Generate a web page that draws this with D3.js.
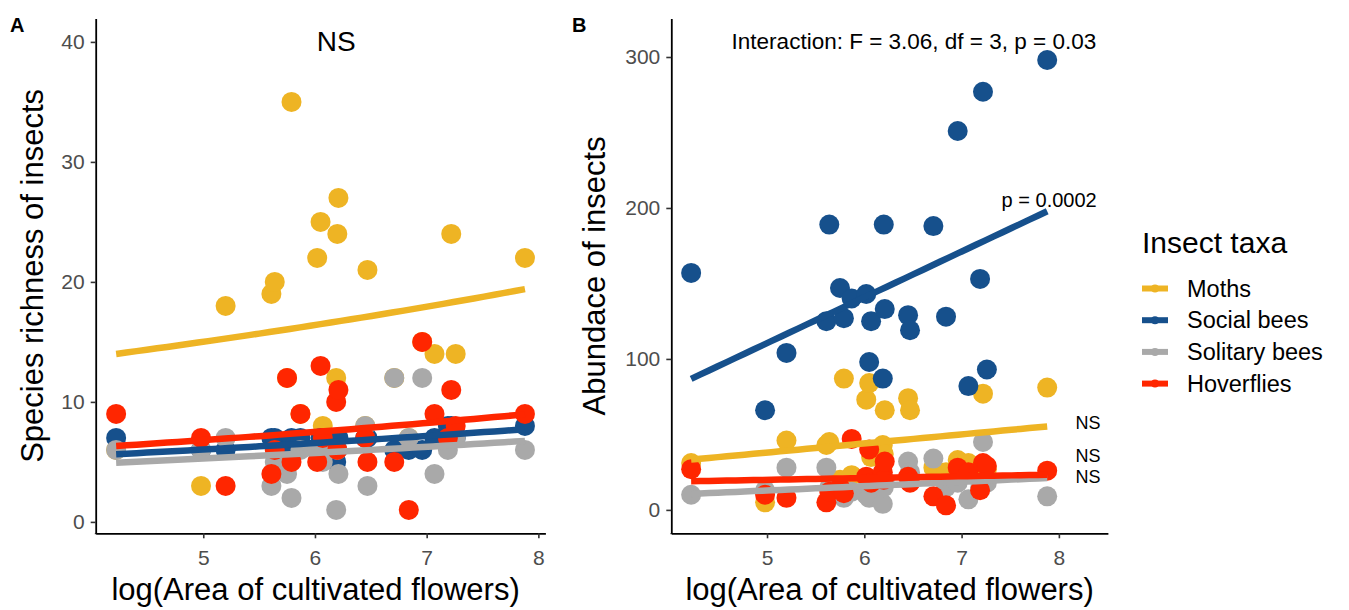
<!DOCTYPE html>
<html>
<head>
<meta charset="utf-8">
<script src="https://cdn.jsdelivr.net/npm/d3@7"></script>
<style>
  body { margin: 0; background: #fff; }
  svg { display: block; }
  text { font-family: "Liberation Sans", Arial, Helvetica, sans-serif; }
</style>
</head>
<body>
<svg id="chart" width="1349" height="610"></svg>
<script>
// ---- data -------------------------------------------------------------
const taxa = ["Moths", "Social bees", "Solitary bees", "Hoverflies"];
const taxaColours = ["#EEB424", "#16508C", "#A9A9A9", "#FF2600"];

// log(area of cultivated flowers) for each of the 24 sites
const logArea = [4.22, 4.98, 5.20, 5.61, 5.64, 5.75, 5.79, 5.87, 6.02, 6.05, 6.07, 6.19,
                 6.20, 6.21, 6.45, 6.47, 6.71, 6.84, 6.96, 7.07, 7.19, 7.22, 7.26, 7.88];

// species richness per site (panel A)
const richMoths      = [6, 3, 18, 19, 20, 12, 35, 9, 22, 25, 8, 12, 24, 27, 8, 21, 12, 7, 15, 14, 7, 24, 14, 22];
const richSocial     = [7, 6, 6, 7, 7, 6, 7, 7, 6, 7, 6, 5, 6, 7, 7, 7, 6, 6, 6, 7, 8, 8, 7, 8];
const richSolitary   = [6, 6, 7, 3, 5, 4, 2, 6, 6, 6, 5, 1, 6, 4, 8, 3, 12, 7, 12, 4, 6, 7, 7, 6];
const richHoverflies = [9, 7, 3, 4, 6, 12, 5, 9, 5, 13, 7, 10, 6, 11, 7, 5, 5, 1, 15, 9, 7, 11, 8, 9];

// abundance per site (panel B)
const abunMoths      = [31, 5, 46, 43, 45, 20, 87, 23, 73, 84, 35, 43, 37, 66, 74, 66, 28, 25, 33, 31, 26, 77, 27, 81];
const abunSocial     = [157, 66, 104, 125, 189, 147, 127, 140, 143, 98, 125, 87, 189, 133, 129, 119, 188, 128, 251, 82, 153, 277, 93, 298];
const abunSolitary   = [10, 13, 28, 28, 15, 15, 8, 12, 10, 8, 18, 4, 15, 20, 32, 25, 34, 15, 18, 7, 15, 45, 18, 9];
const abunHoverflies = [27, 10, 8, 5, 12, 15, 11, 47, 22, 40, 18, 25, 20, 32, 22, 18, 9, 3, 28, 25, 13, 31, 29, 26];

// fitted models: richness uses a log link, abundance is linear
const richIntercept = [2.263, 1.368, 1.237, 1.443];
const richSlope     = [0.0891, 0.0858, 0.0853, 0.0952];
const abunIntercept = [7.94, -41.2, -1.51, 14.04];
const abunSlope     = [6.01, 30.33, 2.87, 1.175];

const xTicks = [5, 6, 7, 8];
const richTicks = [0, 10, 20, 30, 40];
const abunTicks = [0, 100, 200, 300];

// text annotations
const richNote = { x: 6.19, y: 40, label: "NS" };
const abunNote = { x: 6.51, y: 310, label: "Interaction: F = 3.06, df = 3, p = 0.03" };
const abunLineLabels = [
  { x: 7.9,  y: 205,  label: "p = 0.0002", anchor: "middle" },
  { x: 8.17, y: 57.5, label: "NS", anchor: "start" },
  { x: 8.17, y: 35.5, label: "NS", anchor: "start" },
  { x: 8.17, y: 22.0, label: "NS", anchor: "start" }
];

// ---- drawing ----------------------------------------------------------
const svg = d3.select("#chart");
svg.append("rect").attr("width", 1349).attr("height", 610).attr("fill", "#fff");

const richSeries = [richMoths, richSocial, richSolitary, richHoverflies];
const abunSeries = [abunMoths, abunSocial, abunSolitary, abunHoverflies];
const pointOrder = [0, 1, 2, 3];
const lineOrder = [0, 2, 1, 3];
const xExtent = d3.extent(logArea);

function panel(opts) {
  const g = svg.append("g");
  const x = d3.scaleLinear().domain(opts.xDomain).range(opts.xRange);
  const y = d3.scaleLinear().domain(opts.yDomain).range(opts.yRange);

  // points
  pointOrder.forEach(k => {
    g.append("g").selectAll("circle")
      .data(logArea.map((a, i) => ({ a, v: opts.series[k][i] })))
      .join("circle")
      .attr("cx", d => x(d.a))
      .attr("cy", d => y(d.v))
      .attr("r", 10)
      .attr("fill", taxaColours[k]);
  });

  // fitted lines
  const xs = d3.range(0, 41).map(i => xExtent[0] + (xExtent[1] - xExtent[0]) * i / 40);
  lineOrder.forEach(k => {
    const line = d3.line().x(d => x(d)).y(d => y(opts.fit(k, d)));
    g.append("path")
      .attr("d", line(xs))
      .attr("fill", "none")
      .attr("stroke", taxaColours[k])
      .attr("stroke-width", 6.5);
  });

  // axes
  const xAxis = g.append("g")
    .attr("transform", `translate(0,${opts.yRange[0]})`)
    .call(d3.axisBottom(x).tickValues(xTicks).tickFormat(d3.format("d"))
      .tickSize(5).tickSizeOuter(0).tickPadding(12));
  const yAxis = g.append("g")
    .attr("transform", `translate(${opts.xRange[0]},0)`)
    .call(d3.axisLeft(y).tickValues(opts.yTicks).tickFormat(d3.format("d"))
      .tickSize(5).tickSizeOuter(0).tickPadding(6));
  [xAxis, yAxis].forEach(ax => {
    ax.select(".domain").attr("stroke", "#000").attr("stroke-width", 1.8);
    ax.selectAll(".tick line").attr("stroke", "#333").attr("stroke-width", 1.6);
    ax.selectAll(".tick text").attr("fill", "#4D4D4D").style("font-size", "21px");
  });
  // join the two axis lines at the corner
  g.append("line")
    .attr("x1", opts.xRange[0]).attr("x2", opts.xRange[0])
    .attr("y1", opts.yRange[0]).attr("y2", opts.yRange[0] + 0.9)
    .attr("stroke", "#000").attr("stroke-width", 1.8);

  // axis titles
  g.append("text")
    .attr("x", (opts.xRange[0] + opts.xRange[1]) / 2 + opts.xTitleShift)
    .attr("y", 600)
    .attr("text-anchor", "middle")
    .style("font-size", "31px")
    .attr("fill", "#000")
    .text("log(Area of cultivated flowers)");
  g.append("text")
    .attr("transform", `translate(${opts.yTitleX},${(opts.yRange[0] + opts.yRange[1]) / 2}) rotate(-90)`)
    .attr("text-anchor", "middle")
    .attr("dominant-baseline", "central")
    .style("font-size", "31px")
    .attr("fill", "#000")
    .text(opts.yTitle);

  // panel tag
  g.append("text")
    .attr("x", opts.tagX).attr("y", 32)
    .style("font-size", "20px").style("font-weight", "bold")
    .text(opts.tag);

  return { g, x, y };
}

const pA = panel({
  series: richSeries,
  xDomain: [4.037, 8.063], xRange: [95.7, 545.4],
  yDomain: [-0.95, 41.95], yRange: [533.3, 18.5],
  yTicks: richTicks,
  fit: (k, a) => Math.exp(richIntercept[k] + richSlope[k] * a),
  yTitle: "Species richness of insects", yTitleX: 32, xTitleShift: -5,
  tag: "A", tagX: 10
});
pA.g.append("text")
  .attr("x", pA.x(richNote.x)).attr("y", pA.y(richNote.y))
  .attr("text-anchor", "middle").attr("dominant-baseline", "central")
  .style("font-size", "28px").text(richNote.label);

const pB = panel({
  series: abunSeries,
  xDomain: [4.016, 8.504], xRange: [671.3, 1107.9],
  yDomain: [-15.5, 325.5], yRange: [533.3, 18.5],
  yTicks: abunTicks,
  fit: (k, a) => abunIntercept[k] + abunSlope[k] * a,
  yTitle: "Abundace of insects", yTitleX: 594, xTitleShift: 0,
  tag: "B", tagX: 572
});
pB.g.append("text")
  .attr("x", pB.x(abunNote.x)).attr("y", pB.y(abunNote.y))
  .attr("text-anchor", "middle").attr("dominant-baseline", "central")
  .style("font-size", "22.5px").text(abunNote.label);
pB.g.selectAll("text.linelab")
  .data(abunLineLabels)
  .join("text")
  .attr("class", "linelab")
  .attr("x", d => pB.x(d.x)).attr("y", d => pB.y(d.y))
  .attr("text-anchor", d => d.anchor).attr("dominant-baseline", "central")
  .style("font-size", d => d.anchor === "middle" ? "20px" : "18px").text(d => d.label);

// ---- legend -----------------------------------------------------------
const legend = svg.append("g").attr("transform", "translate(1142,0)");
legend.append("text").attr("x", 0).attr("y", 253)
  .style("font-size", "30px").text("Insect taxa");
taxa.forEach((t, k) => {
  const cy = 288.5 + k * 31.7;
  legend.append("line")
    .attr("x1", 0).attr("x2", 26).attr("y1", cy).attr("y2", cy)
    .attr("stroke", taxaColours[k]).attr("stroke-width", 6);
  legend.append("circle").attr("cx", 13).attr("cy", cy).attr("r", 4).attr("fill", taxaColours[k]);
  legend.append("text").attr("x", 45).attr("y", cy)
    .attr("dominant-baseline", "central")
    .style("font-size", "23.5px").text(t);
});
</script>
</body>
</html>
